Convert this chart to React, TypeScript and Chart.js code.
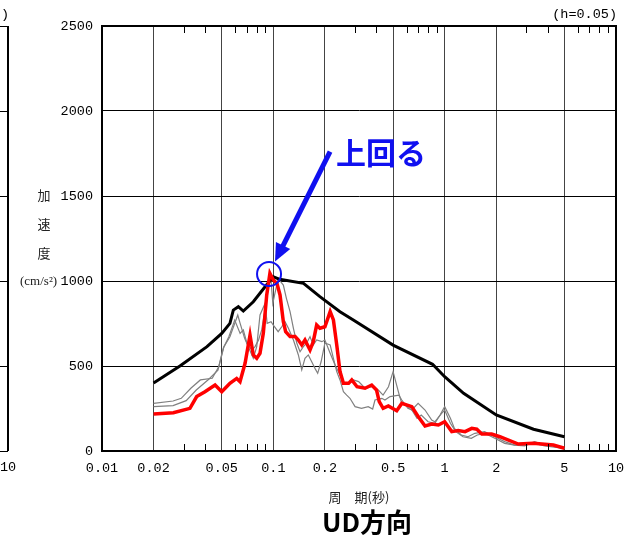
import React, { useEffect, useRef } from "react";
import { Chart, registerables } from "chart.js";
Chart.register(...registerables);

// ---- axis ticks ----
const xTickValues = [0.01, 0.02, 0.05, 0.1, 0.2, 0.5, 1, 2, 5, 10];
const xTickLabels = ["0.01", "0.02", "0.05", "0.1", "0.2", "0.5", "1", "2", "5", "10"];
const xMinorValues = [0.03, 0.04, 0.06, 0.07, 0.08, 0.09, 0.3, 0.4, 0.6, 0.7, 0.8, 0.9, 3, 4, 6, 7, 8, 9];
const yTickValues = [0, 500, 1000, 1500, 2000, 2500];

// ---- series: design spectrum (black) ----
const designPeriods = [0.02, 0.0285, 0.041, 0.05, 0.0558, 0.0584, 0.0625, 0.0668, 0.0764, 0.0895, 0.1, 0.109, 0.15, 0.187, 0.245, 0.293, 0.5, 0.85, 1.0, 1.29, 2.0, 3.3, 5];
const designValues = [400, 500, 614, 692, 751, 829, 849, 823, 878, 966, 1025, 1010, 986, 908, 819, 770, 623, 510, 437, 339, 212, 128, 84];

// ---- series: red ----
const redPeriods = [0.02, 0.0261, 0.0326, 0.0357, 0.0399, 0.0457, 0.05, 0.0558, 0.0611, 0.0639, 0.0684, 0.0731, 0.0764, 0.08, 0.0836, 0.0874, 0.0915, 0.0955, 0.1, 0.105, 0.1094, 0.1144, 0.118, 0.1252, 0.134, 0.14, 0.1465, 0.153, 0.1637, 0.171, 0.179, 0.187, 0.2, 0.2146, 0.2242, 0.2345, 0.245, 0.2565, 0.275, 0.287, 0.308, 0.343, 0.375, 0.4, 0.415, 0.4375, 0.469, 0.525, 0.562, 0.643, 0.702, 0.768, 0.841, 0.919, 1.0, 1.1, 1.2, 1.315, 1.44, 1.54, 1.647, 1.88, 2.1, 2.69, 3.29, 4.31, 5.0];
const redValues = [218, 225, 251, 320, 349, 388, 349, 398, 427, 408, 516, 682, 565, 545, 575, 692, 918, 1045, 1006, 986, 918, 761, 702, 673, 673, 653, 624, 653, 594, 643, 741, 722, 731, 820, 771, 624, 467, 398, 398, 418, 378, 369, 388, 359, 290, 251, 265, 237, 280, 261, 202, 147, 159, 153, 172, 114, 120, 114, 133, 128, 100, 100, 84, 41, 45, 35, 16];

// ---- series: gray A ----
const grayAPeriods = [0.02, 0.026, 0.029, 0.033, 0.0375, 0.044, 0.048, 0.051, 0.055, 0.0595, 0.064, 0.0668, 0.0702, 0.075, 0.0782, 0.082, 0.0855, 0.0895, 0.0935, 0.0966, 0.0993, 0.1067, 0.1144, 0.1192, 0.1252, 0.131, 0.137, 0.1432, 0.1497, 0.1565, 0.1637, 0.171, 0.179, 0.192, 0.2, 0.2146, 0.2292, 0.245, 0.2565, 0.275, 0.2935, 0.3147, 0.343, 0.375, 0.41, 0.437, 0.47, 0.5, 0.54, 0.562, 0.61, 0.643, 0.69, 0.73, 0.8, 0.876, 0.94, 1.0, 1.08, 1.14, 1.25, 1.37, 1.5, 1.71, 1.96, 2.24, 2.56, 2.93, 3.35, 3.83, 4.38, 5.0];
const grayAValues = [280, 294, 310, 369, 418, 428, 496, 604, 672, 770, 692, 712, 633, 594, 614, 653, 712, 829, 966, 1025, 869, 1016, 976, 898, 820, 722, 635, 584, 614, 635, 673, 624, 653, 643, 653, 575, 506, 447, 398, 398, 418, 408, 369, 379, 359, 329, 378, 467, 339, 280, 261, 241, 192, 212, 172, 163, 212, 261, 192, 133, 94, 84, 104, 114, 84, 55, 35, 30, 55, 35, 30, 16];

// ---- series: gray B ----
const grayBPeriods = [0.02, 0.026, 0.031, 0.0355, 0.042, 0.0475, 0.0515, 0.0558, 0.062, 0.064, 0.068, 0.0764, 0.08, 0.0836, 0.0895, 0.092, 0.097, 0.1, 0.1067, 0.112, 0.117, 0.1225, 0.131, 0.14, 0.1465, 0.153, 0.16, 0.1675, 0.175, 0.1815, 0.19, 0.2, 0.2146, 0.2242, 0.2345, 0.245, 0.2565, 0.268, 0.28, 0.3, 0.327, 0.358, 0.38, 0.392, 0.43, 0.448, 0.48, 0.54, 0.562, 0.61, 0.643, 0.7, 0.768, 0.84, 0.876, 0.96, 1.0, 1.08, 1.16, 1.28, 1.43, 1.55, 1.71, 1.96, 2.24, 2.56, 2.93, 3.35, 3.83, 4.38, 5.0];
const grayBValues = [261, 267, 296, 359, 422, 476, 614, 672, 800, 751, 663, 545, 614, 800, 869, 751, 761, 740, 702, 731, 761, 722, 653, 565, 477, 545, 565, 525, 486, 457, 525, 635, 624, 545, 467, 418, 349, 329, 310, 261, 251, 261, 247, 300, 310, 300, 320, 329, 300, 251, 241, 280, 241, 182, 172, 221, 241, 163, 114, 84, 75, 94, 104, 75, 45, 35, 35, 45, 30, 22, 16];

// ---- annotation anchors (period, value) ----
const circleCenter = [0.0944, 1041];
const arrowFrom = [0.2143, 1761];
const arrowTo = [0.1023, 1114];
const calloutAnchor = [0.2323, 1753];
const calloutText = "上回る";

const TICK_FONT = "'Liberation Mono', 'DejaVu Sans Mono', monospace";
const CJK_FONT = "'Noto Sans CJK JP', 'Noto Sans', sans-serif";
const BLUE = "#1010f0";

function pts(p: number[], v: number[]) {
  return p.map((x, i) => ({ x, y: v[i] }));
}

const extrasPlugin = {
  id: "extras",
  afterDraw(chart: any) {
    const { ctx, chartArea: a, scales } = chart;
    const xs = scales.x;
    const ys = scales.y;
    ctx.save();

    // minor ticks (top and bottom)
    ctx.strokeStyle = "#000";
    ctx.lineWidth = 1;
    ctx.beginPath();
    for (const v of xMinorValues) {
      const px = Math.round(xs.getPixelForValue(v)) + 0.5;
      ctx.moveTo(px, a.bottom);
      ctx.lineTo(px, a.bottom - 7);
      ctx.moveTo(px, a.top);
      ctx.lineTo(px, a.top + 7);
    }
    ctx.stroke();

    // frame
    ctx.lineWidth = 2;
    ctx.strokeRect(a.left, a.top, a.right - a.left, a.bottom - a.top);

    // neighbouring (cut-off) chart on the left
    const lx = 8;
    ctx.beginPath();
    ctx.moveTo(lx, a.top);
    ctx.lineTo(lx, a.bottom);
    ctx.stroke();
    ctx.lineWidth = 1;
    ctx.beginPath();
    for (const v of yTickValues) {
      const py = Math.round(ys.getPixelForValue(v)) + 0.5;
      ctx.moveTo(0, py);
      ctx.lineTo(lx, py);
    }
    ctx.stroke();

    ctx.fillStyle = "#000";
    ctx.font = `13.5px ${TICK_FONT}`;
    ctx.textBaseline = "middle";
    ctx.textAlign = "center";
    ctx.fillText("10", lx, a.bottom + 16);
    ctx.textAlign = "right";
    ctx.fillText("(h=0.05)", lx + 1, 14);
    ctx.fillText("(h=0.05)", a.right + 1, 14);

    // y title
    ctx.font = `13px ${CJK_FONT}`;
    ctx.fillStyle = "#222";
    ctx.textAlign = "center";
    ctx.fillText("加", 44, 195);
    ctx.fillText("速", 44, 224);
    ctx.fillText("度", 44, 253);
    ctx.textAlign = "left";
    ctx.font = `13px 'Liberation Serif', serif`;
    ctx.fillText("(cm/s²)", 20, 282);

    // x title
    ctx.font = `13px ${CJK_FONT}`;
    ctx.textAlign = "center";
    ctx.fillText("周　期(秒)", (a.left + a.right) / 2, 497);

    // bottom title
    ctx.fillStyle = "#000";
    ctx.font = `bold 26px ${CJK_FONT}`;
    ctx.fillText("UD方向", 367, 522);

    // annotation: circle
    const cx = xs.getPixelForValue(circleCenter[0]);
    const cy = ys.getPixelForValue(circleCenter[1]);
    ctx.strokeStyle = BLUE;
    ctx.lineWidth = 2;
    ctx.beginPath();
    ctx.arc(cx, cy, 12, 0, Math.PI * 2);
    ctx.stroke();

    // annotation: arrow
    const sx = xs.getPixelForValue(arrowFrom[0]);
    const sy = ys.getPixelForValue(arrowFrom[1]);
    const tx = xs.getPixelForValue(arrowTo[0]);
    const ty = ys.getPixelForValue(arrowTo[1]);
    const dx = tx - sx, dy = ty - sy;
    const len = Math.hypot(dx, dy);
    const ux = dx / len, uy = dy / len;
    const nx = -uy, ny = ux;
    const headLen = 18, headHalf = 8;
    const bx = tx - ux * headLen, by = ty - uy * headLen;
    ctx.lineWidth = 5;
    ctx.lineCap = "butt";
    ctx.beginPath();
    ctx.moveTo(sx, sy);
    ctx.lineTo(bx + ux * 2, by + uy * 2);
    ctx.stroke();
    ctx.fillStyle = BLUE;
    ctx.beginPath();
    ctx.moveTo(tx, ty);
    ctx.lineTo(bx + nx * headHalf, by + ny * headHalf);
    ctx.lineTo(bx - nx * headHalf, by - ny * headHalf);
    ctx.closePath();
    ctx.fill();

    // annotation: text
    ctx.font = `bold 30px ${CJK_FONT}`;
    ctx.textAlign = "left";
    ctx.textBaseline = "middle";
    ctx.fillText(calloutText, xs.getPixelForValue(calloutAnchor[0]), ys.getPixelForValue(calloutAnchor[1]));

    ctx.restore();
  },
};

export default function App() {
  const ref = useRef<HTMLCanvasElement | null>(null);
  useEffect(() => {
    if (!ref.current) return;
    const chart = new Chart(ref.current, {
      type: "line",
      data: {
        datasets: [
          { data: pts(redPeriods, redValues), borderColor: "#ff0000", borderWidth: 3.5, pointRadius: 0, tension: 0, order: 0 },
          { data: pts(designPeriods, designValues), borderColor: "#000000", borderWidth: 3, pointRadius: 0, tension: 0, order: 1 },
          { data: pts(grayAPeriods, grayAValues), borderColor: "#808080", borderWidth: 1.2, pointRadius: 0, tension: 0, order: 2 },
          { data: pts(grayBPeriods, grayBValues), borderColor: "#808080", borderWidth: 1.2, pointRadius: 0, tension: 0, order: 3 },
        ],
      },
      options: {
        responsive: false,
        animation: false,
        devicePixelRatio: 1,
        layout: { padding: { left: 0, right: 12, top: 26, bottom: 0 } },
        plugins: { legend: { display: false }, tooltip: { enabled: false }, title: { display: false } },
        scales: {
          x: {
            type: "logarithmic",
            min: 0.01,
            max: 10,
            afterBuildTicks: (s: any) => {
              s.ticks = xTickValues.map((v) => ({ value: v, major: false }));
            },
            afterFit: (s: any) => {
              s.height = 84;
              s.paddingLeft = 0;
              s.paddingRight = 0;
            },
            ticks: {
              autoSkip: false,
              maxRotation: 0,
              minRotation: 0,
              padding: 9,
              color: "#000",
              font: { family: TICK_FONT, size: 13.5 },
              callback: (v: any) => {
                const i = xTickValues.findIndex((t) => Math.abs(t - Number(v)) < 1e-9);
                return i >= 0 ? xTickLabels[i] : "";
              },
            },
            grid: { color: "#444", lineWidth: 1, drawTicks: false },
            border: { display: true, color: "#000", width: 2 },
          },
          y: {
            type: "linear",
            min: 0,
            max: 2500,
            afterBuildTicks: (s: any) => {
              s.ticks = yTickValues.map((v) => ({ value: v }));
            },
            afterFit: (s: any) => {
              s.width = 102;
              s.paddingTop = 0;
              s.paddingBottom = 0;
            },
            ticks: {
              padding: 9,
              color: "#000",
              font: { family: TICK_FONT, size: 13.5 },
              callback: (v: any) => String(v),
            },
            grid: { color: "#000", lineWidth: 1, drawTicks: false },
            border: { display: true, color: "#000", width: 2 },
          },
        },
      },
      plugins: [extrasPlugin],
    } as any);
    return () => chart.destroy();
  }, []);
  return (
    <div style={{ position: "fixed", left: 0, top: 0, width: 628, height: 535, background: "#fff" }}>
      <canvas ref={ref} width={628} height={535} style={{ display: "block", width: 628, height: 535 }} />
    </div>
  );
}
